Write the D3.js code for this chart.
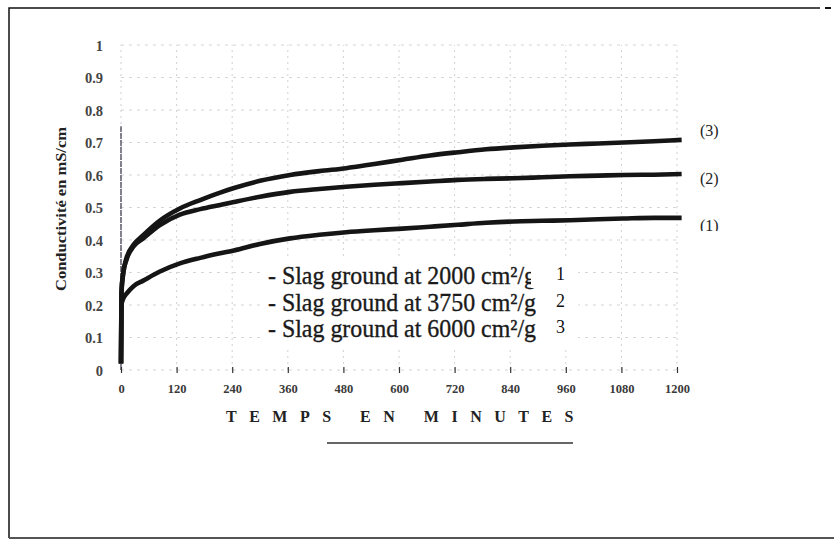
<!DOCTYPE html>
<html><head><meta charset="utf-8">
<script src="https://cdn.jsdelivr.net/npm/d3@7"></script>
<style>body{margin:0;background:#fff}svg{display:block}</style>
</head><body>
<script>
// ---- data ----
const times   = [0, 1, 5, 12, 27, 48, 84, 127, 171, 214, 244, 300, 365, 428, 486, 547, 607, 667, 727, 788, 848, 909, 969, 1030, 1084, 1150, 1210];
const curve1  = [0.02, 0.20, 0.22, 0.235, 0.258, 0.275, 0.303, 0.328, 0.345, 0.359, 0.368, 0.388, 0.405, 0.416, 0.424, 0.430, 0.435, 0.441, 0.447, 0.453, 0.457, 0.459, 0.461, 0.464, 0.466, 0.468, 0.468];
const curve2  = [0.02, 0.24, 0.30, 0.34, 0.38, 0.405, 0.446, 0.478, 0.495, 0.508, 0.517, 0.533, 0.548, 0.557, 0.564, 0.570, 0.575, 0.580, 0.585, 0.588, 0.590, 0.593, 0.596, 0.598, 0.600, 0.601, 0.603];
const curve3  = [0.02, 0.24, 0.30, 0.345, 0.385, 0.415, 0.46, 0.497, 0.523, 0.546, 0.560, 0.582, 0.600, 0.612, 0.621, 0.634, 0.647, 0.660, 0.670, 0.679, 0.685, 0.690, 0.694, 0.697, 0.700, 0.704, 0.708];
const seriesNames  = ["(1)", "(2)", "(3)"];
const legendLabels = ["- Slag ground at 2000 cm²/g", "- Slag ground at 3750 cm²/g", "- Slag ground at 6000 cm²/g"];
const legendNums   = ["1", "2", "3"];
const xTicks = [0, 120, 240, 360, 480, 600, 720, 840, 960, 1080, 1200];
const yTicks = [0, 0.1, 0.2, 0.3, 0.4, 0.5, 0.6, 0.7, 0.8, 0.9, 1];
const yTickLabels = ["0", "0.1", "0.2", "0.3", "0.4", "0.5", "0.6", "0.7", "0.8", "0.9", "1"];
const xTitle = "TEMPS EN MINUTES";
const yTitle = "Conductivité  en  mS/cm";

const W = 834, H = 542;
const svg = d3.select("body").append("svg").attr("width", W).attr("height", H);
const x = d3.scaleLinear().domain([0, 1200]).range([121, 677]);
const y = d3.scaleLinear().domain([0, 1]).range([370, 45]);

// page frame
svg.append("path").attr("d", `M9,538 L9,8 L820,8`).attr("fill","none").attr("stroke","#111").attr("stroke-width",1.5);
svg.append("line").attr("x1",9).attr("x2",834).attr("y1",538).attr("y2",538).attr("stroke","#555").attr("stroke-width",2);
svg.append("line").attr("x1",825).attr("x2",831).attr("y1",8).attr("y2",8).attr("stroke","#111").attr("stroke-width",2);

// grid (faint dashed)
const g = svg.append("g");
g.selectAll(".vg").data(xTicks).join("line")
  .attr("x1", d=>x(d)).attr("x2", d=>x(d)).attr("y1", y(0)).attr("y2", y(1))
  .attr("stroke", "#9a9aa8").attr("stroke-width", 1).attr("stroke-dasharray", "2,4").attr("opacity", 0.45);
g.selectAll(".hg").data(yTicks).join("line")
  .attr("x1", x(0)).attr("x2", x(1200)).attr("y1", d=>y(d)).attr("y2", d=>y(d))
  .attr("stroke", "#9a9aa8").attr("stroke-width", 1).attr("stroke-dasharray", "3,5").attr("opacity", 0.4);
// darker y axis line
g.append("line").attr("x1", x(0)).attr("x2", x(0)).attr("y1", y(0)).attr("y2", y(0.75))
  .attr("stroke", "#445").attr("stroke-width", 1.3).attr("stroke-dasharray", "6,1");

// axes (labels only)
const xAxis = d3.axisBottom(x).tickValues(xTicks).tickSize(6).tickFormat(d3.format("d"));
const xa = svg.append("g").attr("transform", `translate(0,${y(0)-3})`).call(xAxis);
xa.select(".domain").remove();
xa.selectAll(".tick line").attr("stroke", "#333").attr("stroke-width", 1.2);
xa.selectAll(".tick text").attr("y", 17).attr("font-family", "Liberation Serif").attr("font-size", 12.5)
  .attr("font-weight", "bold").attr("fill", "#3a3a3a");

const yAxis = d3.axisLeft(y).tickValues(yTicks).tickSize(0).tickFormat((d,i)=>yTickLabels[i]);
const ya = svg.append("g").attr("transform", `translate(${x(0)-18},0)`).call(yAxis);
ya.select(".domain").remove();
ya.selectAll(".tick text").attr("font-family", "Liberation Serif").attr("font-size", 14.5)
  .attr("font-weight", "bold").attr("fill", "#444").attr("dy", "0.35em").attr("x", 0);

// titles
svg.append("text").attr("x", 406).attr("y", 422).attr("text-anchor", "middle")
  .attr("font-family", "Liberation Serif").attr("font-weight", "bold").attr("font-size", 16)
  .attr("letter-spacing", "12.5px").attr("fill", "#222").text(xTitle);
svg.append("line").attr("x1", 327).attr("x2", 573).attr("y1", 443).attr("y2", 443)
  .attr("stroke", "#333").attr("stroke-width", 1.5);
svg.append("text").attr("transform", `translate(66,209) rotate(-90)`).attr("text-anchor", "middle")
  .attr("font-family", "Liberation Serif").attr("font-weight", "bold").attr("font-size", 14.5)
  .attr("textLength", 164).attr("lengthAdjust", "spacingAndGlyphs")
  .attr("fill", "#222").text(yTitle);

// curves
const line = d3.line().x((d,i)=>x(times[i])).y(d=>y(d)).curve(d3.curveMonotoneX);
const seriesData = [curve1, curve2, curve3];
svg.append("g").selectAll("path").data(seriesData).join("path")
  .attr("d", d=>line(d)).attr("fill", "none").attr("stroke", "#151515")
  .attr("stroke-width", 4.6).attr("stroke-linejoin", "round");

// series end labels
svg.append("g").selectAll("text").data(seriesData).join("text")
  .attr("x", 700).attr("y", (d,i)=>y(d[d.length-1]) + [13, 10, -4][i])
  .attr("font-family", "Liberation Serif").attr("font-size", 16).attr("fill", "#222")
  .text((d,i)=>seriesNames[i]);
// bottom of "(1)" cut off in the picture
svg.append("rect").attr("x", 695).attr("y", 231).attr("width", 40).attr("height", 12).attr("fill", "#fff");

// legend box
const lg = svg.append("g");
lg.append("rect").attr("x", 264).attr("y", 256).attr("width", 314).attr("height", 90).attr("fill", "#fff");
lg.selectAll(".lt").data(legendLabels).join("text")
  .attr("x", 268).attr("y", (d,i)=>284 + i*26.5)
  .attr("font-family", "Liberation Serif").attr("font-size", 25).attr("fill", "#1a1a1a")
  .attr("stroke", "#1a1a1a").attr("stroke-width", 0.35)
  .attr("textLength", 268).attr("lengthAdjust", "spacingAndGlyphs")
  .text(d=>d);
lg.append("rect").attr("x", 531).attr("y", 258).attr("width", 46).attr("height", 30).attr("fill", "#fff");
lg.selectAll(".ln").data(legendNums).join("text")
  .attr("x", 556).attr("y", (d,i)=>280 + i*26.5)
  .attr("font-family", "Liberation Serif").attr("font-size", 18).attr("fill", "#111")
  .text(d=>d);
</script>
</body></html>
